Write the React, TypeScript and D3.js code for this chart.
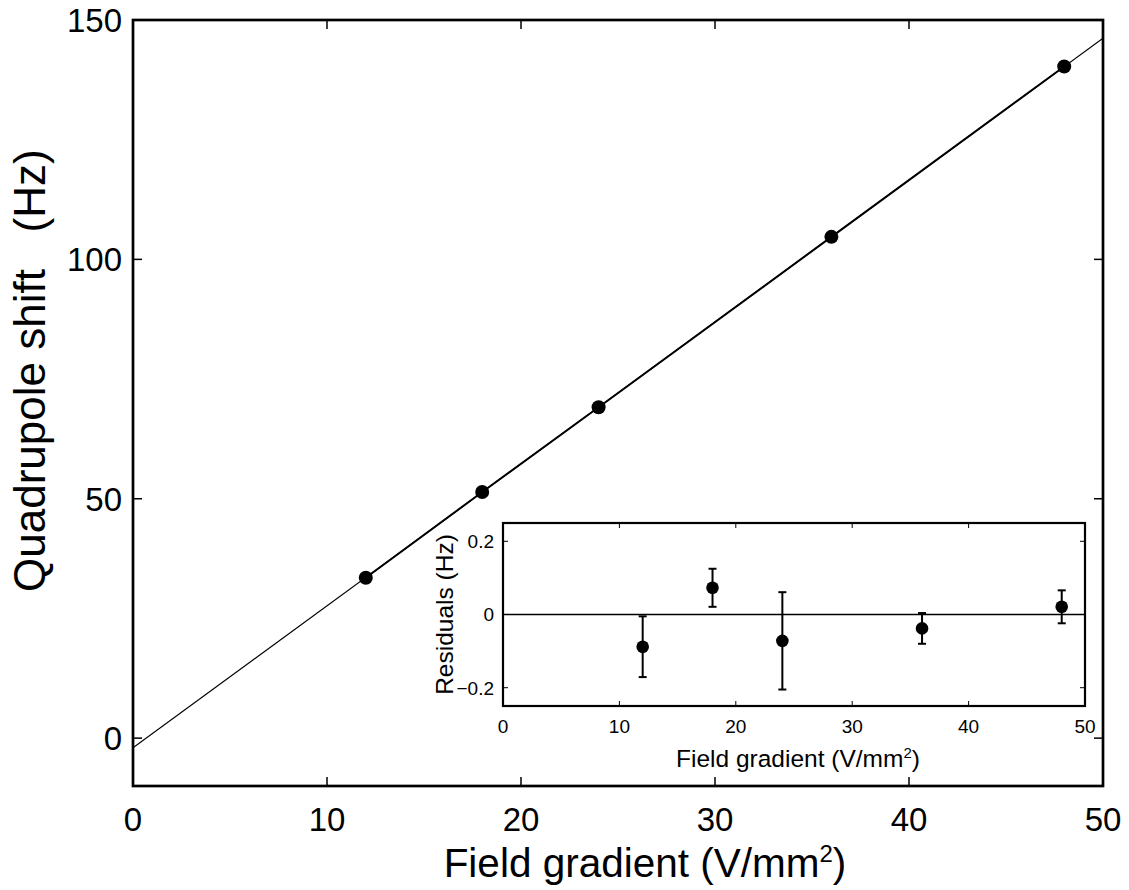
import React from "react";
import * as d3 from "d3";

// ---- data ----
const gradients = [12, 18, 24, 36, 48];
const shifts = [33.5, 51.4, 69.1, 104.7, 140.3];
const fitX = [0, 50];
const fitY = [-2.0, 146.2];
const residuals = [-0.088, 0.073, -0.072, -0.038, 0.021];
const residualErrors = [0.083, 0.052, 0.133, 0.042, 0.045];
const mainXTicks = [0, 10, 20, 30, 40, 50];
const mainYTicks = [0, 50, 100, 150];
const insetXTicks = [0, 10, 20, 30, 40, 50];
const insetYTicks = [-0.2, 0, 0.2];

const W = 1129;
const H = 890;
const FONT = "'Liberation Sans', Arial, Helvetica, sans-serif";

export default function App() {
  // main axes
  const x = d3.scaleLinear().domain([0, 50]).range([133, 1103]);
  const y = d3.scaleLinear().domain([-10, 150]).range([786, 20]);
  // inset axes
  const ix = d3.scaleLinear().domain([0, 50]).range([503, 1085]);
  const iy = d3.scaleLinear().domain([-0.25, 0.25]).range([706, 523]);

  const fitLine = d3
    .line<number>()
    .x((d) => x(d))
    .y((_, i) => y(fitY[i]));
  const dataLine = d3
    .line<number>()
    .x((d) => x(d))
    .y((_, i) => y(shifts[i]));

  const [x0, x1] = x.range();
  const [y0, y1] = y.range();
  const [ix0, ix1] = ix.range();
  const [iy0, iy1] = iy.range();
  const fmtInset = (v: number) =>
    v === 0 ? "0" : v < 0 ? "\u2212" + Math.abs(v).toFixed(1) : v.toFixed(1);

  const mainTick = 9;
  const insetTick = 5;

  return (
    <svg
      width={W}
      height={H}
      style={{ position: "absolute", left: 0, top: 0, background: "#fff" }}
      fontFamily={FONT}
    >
      <rect x={0} y={0} width={W} height={H} fill="#fff" />
      {/* fit line */}
      <path d={fitLine(fitX) || ""} fill="none" stroke="#000" strokeWidth={1.1} />
      {/* data line */}
      <path d={dataLine(gradients) || ""} fill="none" stroke="#000" strokeWidth={2} />
      {gradients.map((g, i) => (
        <circle key={i} cx={x(g)} cy={y(shifts[i])} r={7} fill="#000" />
      ))}

      {/* main ticks */}
      {mainXTicks.map((t) => (
        <g key={"mx" + t}>
          <line x1={x(t)} x2={x(t)} y1={y0} y2={y0 - mainTick} stroke="#000" strokeWidth={1.5} />
          <line x1={x(t)} x2={x(t)} y1={y1} y2={y1 + mainTick} stroke="#000" strokeWidth={1.5} />
          <text x={x(t)} y={831} fontSize={33} textAnchor="middle" fill="#000">
            {t}
          </text>
        </g>
      ))}
      {mainYTicks.map((t) => (
        <g key={"my" + t}>
          <line x1={x0} x2={x0 + mainTick} y1={y(t)} y2={y(t)} stroke="#000" strokeWidth={1.5} />
          <line x1={x1} x2={x1 - mainTick} y1={y(t)} y2={y(t)} stroke="#000" strokeWidth={1.5} />
          <text x={x0 - 11} y={y(t)} dy="0.36em" fontSize={33} textAnchor="end" fill="#000">
            {t}
          </text>
        </g>
      ))}
      {/* main frame */}
      <rect x={x0} y={y1} width={x1 - x0} height={y0 - y1} fill="none" stroke="#000" strokeWidth={2.7} />

      {/* main labels */}
      <text x={645} y={877} fontSize={40.5} textAnchor="middle" fill="#000">
        Field gradient (V/mm<tspan dy={-15} fontSize={24}>2</tspan>
        <tspan dy={15}>)</tspan>
      </text>
      <text
        transform={`translate(45, 592) rotate(-90)`}
        fontSize={44}
        textAnchor="start"
        fill="#000"
        style={{ whiteSpace: "pre" }}
      >
        {"Quadrupole shift   (Hz)"}
      </text>

      {/* inset */}
      <rect x={ix0} y={iy1} width={ix1 - ix0} height={iy0 - iy1} fill="#fff" stroke="none" />
      <line x1={ix0} x2={ix1} y1={iy(0)} y2={iy(0)} stroke="#000" strokeWidth={1.3} />
      {gradients.map((g, i) => {
        const cx = ix(g);
        const top = iy(residuals[i] + residualErrors[i]);
        const bot = iy(residuals[i] - residualErrors[i]);
        return (
          <g key={"r" + i}>
            <line x1={cx} x2={cx} y1={top} y2={bot} stroke="#000" strokeWidth={2} />
            <line x1={cx - 4} x2={cx + 4} y1={top} y2={top} stroke="#000" strokeWidth={2} />
            <line x1={cx - 4} x2={cx + 4} y1={bot} y2={bot} stroke="#000" strokeWidth={2} />
            <circle cx={cx} cy={iy(residuals[i])} r={6.3} fill="#000" />
          </g>
        );
      })}
      {insetXTicks.map((t) => (
        <g key={"ix" + t}>
          <line x1={ix(t)} x2={ix(t)} y1={iy0} y2={iy0 - insetTick} stroke="#000" strokeWidth={1} />
          <line x1={ix(t)} x2={ix(t)} y1={iy1} y2={iy1 + insetTick} stroke="#000" strokeWidth={1} />
          <text x={ix(t)} y={733} fontSize={19} textAnchor="middle" fill="#000">
            {t}
          </text>
        </g>
      ))}
      {insetYTicks.map((t) => (
        <g key={"iy" + t}>
          <line x1={ix0} x2={ix0 + insetTick} y1={iy(t)} y2={iy(t)} stroke="#000" strokeWidth={1} />
          <line x1={ix1} x2={ix1 - insetTick} y1={iy(t)} y2={iy(t)} stroke="#000" strokeWidth={1} />
          <text x={ix0 - 9} y={iy(t)} dy="0.36em" fontSize={19} textAnchor="end" fill="#000">
            {fmtInset(t)}
          </text>
        </g>
      ))}
      <rect x={ix0} y={iy1} width={ix1 - ix0} height={iy0 - iy1} fill="none" stroke="#000" strokeWidth={2.2} />
      <text x={798} y={767} fontSize={24.5} textAnchor="middle" fill="#000">
        Field gradient (V/mm<tspan dy={-9} fontSize={15}>2</tspan>
        <tspan dy={9}>)</tspan>
      </text>
      <text
        transform={`translate(453, ${(iy0 + iy1) / 2}) rotate(-90)`}
        fontSize={24.5}
        textAnchor="middle"
        fill="#000"
      >
        Residuals (Hz)
      </text>
    </svg>
  );
}
